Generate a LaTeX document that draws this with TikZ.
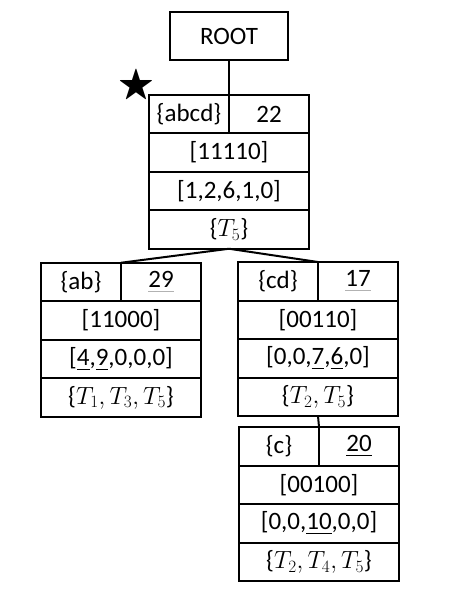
\documentclass[tikz,border=0pt]{standalone}
\usepackage{amsmath,amssymb}
\usepackage{fontspec}
\setmainfont{Carlito}
\usetikzlibrary{positioning}

\tikzset{
  cell/.style={draw, line width=2pt, minimum height=38.5pt, inner sep=0pt,
    outer sep=0pt, font=\fontsize{25}{28}\selectfont},
  half/.style={cell, minimum width=80pt},
  full/.style={cell, minimum width=160pt},
  edge/.style={line width=2pt}
}
\newcommand{\lightul}[1]{{\color{gray!60}\underline{\textcolor{black}{#1}}}}

\begin{document}
\begin{tikzpicture}[x=1pt,y=-1pt]
    \useasboundingbox (0,0) rectangle (467,593);
    % root
    \node[cell, minimum width=118pt, minimum height=48pt] (root) at (229,36) {ROOT};
    \node[font=\fontsize{38}{38}\selectfont] (mark) at (136,86) {$\bigstar$};
    % record abcd
    \node[half] (abcdS) at (189,114) {\{abcd\}};
    \node[half, right=0pt of abcdS] (abcdV) {22};
    \node[full, below=0pt of abcdS.south east] (abcdB) {[11110]};
    \node[full, below=0pt of abcdB] (abcdC) {[1,2,6,1,0]};
    \node[full, below=0pt of abcdC] (abcdT) {\{$T_5$\}};
    % record ab
    \node[half] (abS) at (81,282) {\{ab\}};
    \node[half, right=0pt of abS] (abV) {\lightul{29}};
    \node[full, below=0pt of abS.south east] (abB) {[11000]};
    \node[full, below=0pt of abB] (abC) {[\underline{4},\underline{9},0,0,0]};
    \node[full, below=0pt of abC] (abT) {\{$T_1,T_3,T_5$\}};
    % record cd
    \node[half] (cdS) at (278,281.25) {\{cd\}};
    \node[half, right=0pt of cdS] (cdV) {\lightul{17}};
    \node[full, below=0pt of cdS.south east] (cdB) {[00110]};
    \node[full, below=0pt of cdB] (cdC) {[0,0,\underline{7},\underline{6},0]};
    \node[full, below=0pt of cdC] (cdT) {\{$T_2,T_5$\}};
    % record c
    \node[half] (cS) at (279,446.25) {\{c\}};
    \node[half, right=0pt of cS] (cV) {\underline{20}};
    \node[full, below=0pt of cS.south east] (cB) {[00100]};
    \node[full, below=0pt of cB] (cC) {[0,0,\underline{10},0,0]};
    \node[full, below=0pt of cC] (cT) {\{$T_2,T_4,T_5$\}};
    % edges
    \draw[edge] (root.south) -- (abcdS.north east);
    \draw[edge] (abcdT.south) -- (abS.north east);
    \draw[edge] (abcdT.south) -- (cdS.north east);
    \draw[edge] (cdT.south) -- (cS.north east);
\end{tikzpicture}
\end{document}
